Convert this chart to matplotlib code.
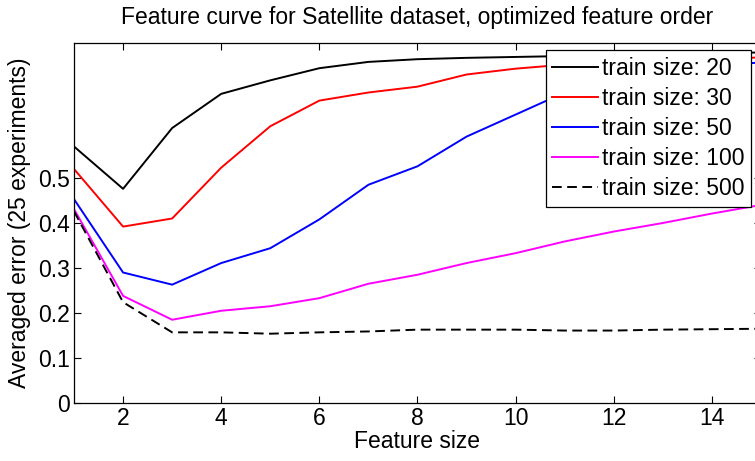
import matplotlib
matplotlib.use("Agg")
import matplotlib.pyplot as plt

plt.rcParams['font.family'] = ['Liberation Sans', 'DejaVu Sans']

# feature size on x
features = [1, 2, 3, 4, 5, 6, 7, 8, 9, 10, 11, 12, 13, 14, 15]

# averaged error per train size
err_20 = [0.570, 0.476, 0.611, 0.687, 0.717, 0.744, 0.758, 0.764, 0.767, 0.769, 0.771, 0.773, 0.775, 0.777, 0.779]
err_30 = [0.520, 0.392, 0.410, 0.523, 0.615, 0.672, 0.690, 0.703, 0.730, 0.743, 0.752, 0.757, 0.760, 0.764, 0.768]
err_50 = [0.453, 0.290, 0.263, 0.311, 0.344, 0.408, 0.485, 0.526, 0.592, 0.641, 0.690, 0.718, 0.735, 0.748, 0.757]
err_100 = [0.431, 0.238, 0.185, 0.205, 0.215, 0.233, 0.265, 0.285, 0.311, 0.333, 0.359, 0.381, 0.400, 0.421, 0.440]
err_500 = [0.426, 0.224, 0.157, 0.157, 0.154, 0.157, 0.159, 0.163, 0.163, 0.163, 0.161, 0.161, 0.163, 0.164, 0.165]

labels = ['train size: 20', 'train size: 30', 'train size: 50',
          'train size: 100', 'train size: 500']

fs = 16.5

fig = plt.figure(figsize=(7.55, 4.61), dpi=100)
ax = fig.add_axes([74 / 755, 58 / 461, 687 / 755, 360 / 461])

ax.plot(features, err_20, color='black', lw=1.4, label=labels[0])
ax.plot(features, err_30, color='red', lw=1.4, label=labels[1])
ax.plot(features, err_50, color='blue', lw=1.4, label=labels[2])
ax.plot(features, err_100, color='magenta', lw=1.4, label=labels[3])
ax.plot(features, err_500, color='black', lw=1.4, ls=(0, (5, 2.8)), label=labels[4])

ax.set_xlim(1, 15)
ax.set_ylim(0, 0.8)
ax.set_xticks([2, 4, 6, 8, 10, 12, 14])
ax.set_yticks([0, 0.1, 0.2, 0.3, 0.4, 0.5])
ax.set_yticklabels(['0', '0.1', '0.2', '0.3', '0.4', '0.5'])
ax.tick_params(direction='in', top=True, right=True, labelsize=fs, length=5, width=0.8, pad=3)
for s in ax.spines.values():
    s.set_linewidth(0.9)

ax.set_xlabel('Feature size', fontsize=fs, labelpad=0)
ax.set_ylabel('Averaged error (25 experiments)', fontsize=fs, labelpad=5)
ax.set_title('Feature curve for Satellite dataset, optimized feature order', fontsize=fs, pad=14)

leg = ax.legend(loc='upper right', fontsize=fs, fancybox=False, framealpha=1,
                edgecolor='black', borderaxespad=0.3, handlelength=2.0,
                handletextpad=0.15, labelspacing=0.31, borderpad=0.3,
                bbox_to_anchor=(1 - 3 / 687, 1))
leg.get_frame().set_linewidth(0.9)

fig.savefig('out.png', dpi=100)
